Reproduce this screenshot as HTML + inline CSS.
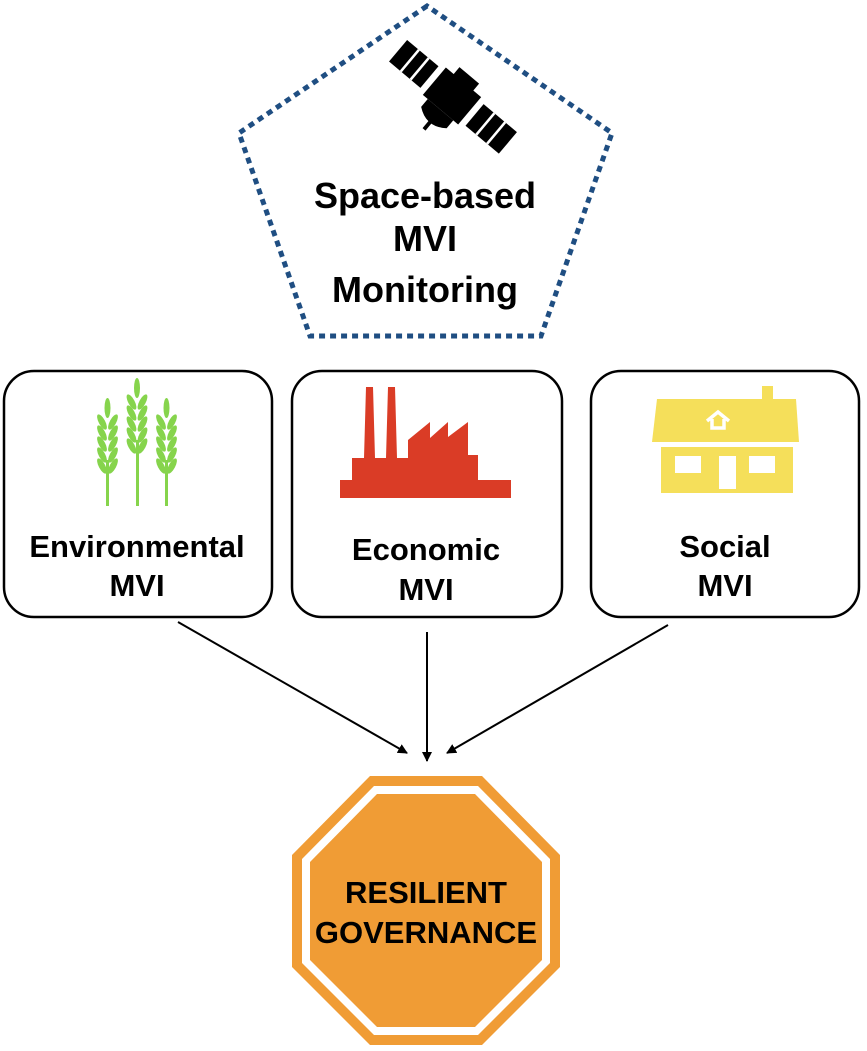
<!DOCTYPE html>
<html><head><meta charset="utf-8"><style>
html,body{margin:0;padding:0;background:#fff;}
svg{display:block;font-family:"Liberation Sans",Arial,sans-serif;}
</style></head><body>
<svg width="867" height="1051" viewBox="0 0 867 1051">
<defs><marker id="ah" markerWidth="10" markerHeight="10" refX="9" refY="5" orient="auto" markerUnits="userSpaceOnUse"><path d="M0,0 L10,5 L0,10 Z" fill="#000"/></marker></defs>
<polygon points="427,6 239,133 310,336 541,336 612,133" fill="none" stroke="#1f4e82" stroke-width="5" stroke-dasharray="6,5"/>
<g transform="translate(452,96) rotate(40) scale(1.28)">
<rect x="-55" y="-11" width="32" height="22" fill="#000"/>
<rect x="23" y="-11" width="34" height="22" fill="#000"/>
<line x1="-43" y1="-11" x2="-43" y2="11" stroke="#fff" stroke-width="2"/>
<line x1="-33" y1="-11" x2="-33" y2="11" stroke="#fff" stroke-width="2"/>
<line x1="34" y1="-11" x2="34" y2="11" stroke="#fff" stroke-width="2"/>
<line x1="45" y1="-11" x2="45" y2="11" stroke="#fff" stroke-width="2"/>
<rect x="-18" y="-14" width="36" height="28" fill="#000"/>
<rect x="-10" y="-21" width="20" height="8" fill="#000"/>
<path d="M-13,14 L-13,22 Q0,32 13,22 L13,14 Z" fill="#000"/>
<line x1="0" y1="24" x2="0" y2="34" stroke="#000" stroke-width="3"/>
</g>
<g font-size="36" font-weight="bold" text-anchor="middle" fill="#000">
<text x="425" y="208">Space-based</text>
<text x="425" y="251">MVI</text>
<text x="425" y="302">Monitoring</text>
</g>
<rect x="4" y="371" width="268" height="246" rx="30" fill="#fff" stroke="#000" stroke-width="2.5"/>
<rect x="292" y="371" width="270" height="246" rx="30" fill="#fff" stroke="#000" stroke-width="2.5"/>
<rect x="591" y="371" width="268" height="246" rx="30" fill="#fff" stroke="#000" stroke-width="2.5"/>
<g fill="#86d44c">
<rect x="106" y="460" width="3" height="46"/><rect x="136" y="440" width="3" height="66"/><rect x="165" y="460" width="3" height="46"/>
<g id="ear">
<ellipse cx="107.5" cy="408" rx="3" ry="10"/>
<g id="pair">
<ellipse cx="102" cy="422" rx="3.2" ry="8.5" transform="rotate(-28 102 422)"/>
<ellipse cx="113" cy="422" rx="3.2" ry="8.5" transform="rotate(28 113 422)"/>
</g>
<use href="#pair" y="11"/><use href="#pair" y="22"/><use href="#pair" y="33"/><use href="#pair" y="44"/>
</g>
<use href="#ear" x="29.5" y="-20"/>
<use href="#ear" x="59"/>
</g>
<path fill="#da3c26" d="M340,498 L340,480 L352,480 L352,458 L364,458 L366,387 L373,387 L375,458 L386,458 L388,387 L395,387 L397,458 L408,458 L408,440 L430,422 L430,438 L448,422 L448,437 L468,422 L468,455 L478,455 L478,480 L511,480 L511,498 Z"/>
<g fill="#f5df5a">
<rect x="762" y="386" width="11" height="14"/>
<polygon points="657,399 796,399 799,442 652,442"/>
<path d="M661,447 L793,447 L793,493 L661,493 Z M675,456 L675,473 L701,473 L701,456 Z M719,456 L719,489 L736,489 L736,456 Z M749,456 L749,473 L775,473 L775,456 Z" fill-rule="evenodd"/>
</g>
<path d="M707,421 L718,412 L729,421 M712,419 L712,428 L724,428 L724,419" fill="none" stroke="#fff" stroke-width="3.5"/>
<g font-size="31" font-weight="bold" text-anchor="middle" fill="#000">
<text x="137" y="557">Environmental</text><text x="137" y="596">MVI</text>
<text x="426" y="560">Economic</text><text x="426" y="600">MVI</text>
<text x="725" y="557">Social</text><text x="725" y="596">MVI</text>
</g>
<g stroke="#000" stroke-width="2" marker-end="url(#ah)">
<line x1="178" y1="622" x2="407" y2="753"/>
<line x1="427" y1="632" x2="427" y2="761"/>
<line x1="668" y1="625" x2="447" y2="753"/>
</g>
<polygon points="370,776 482,776 560,855 560,967 482,1045 370,1045 292,967 292,855" fill="#f09c35"/>
<polygon points="374,786 478,786 550,859 550,963 478,1035 374,1035 302,963 302,859" fill="#fff"/>
<polygon points="377,794 475,794 542,862 542,960 475,1027 377,1027 310,960 310,862" fill="#f09c35"/>
<g font-size="31" font-weight="bold" text-anchor="middle" fill="#000">
<text x="426" y="903">RESILIENT</text>
<text x="426" y="943">GOVERNANCE</text>
</g>
</svg>
</body></html>
